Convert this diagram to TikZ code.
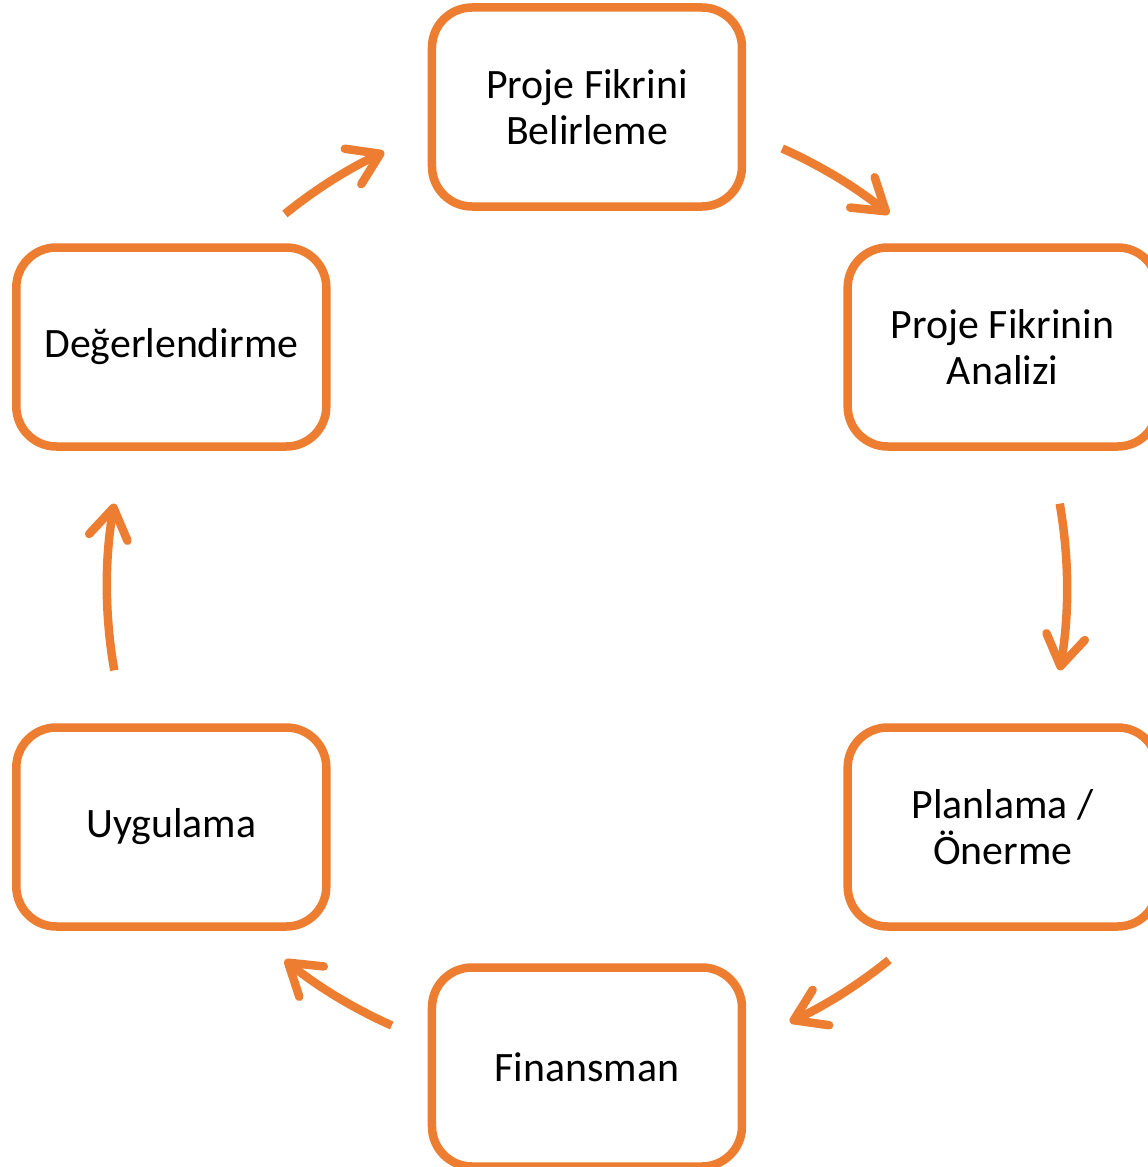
\documentclass[tikz,border=0pt]{standalone}
\usepackage{fontspec}
\setmainfont{Carlito}
\usetikzlibrary{arrows.meta}
\definecolor{accentorange}{HTML}{ED7D31}

\begin{document}
\begin{tikzpicture}[stepbox/.style={draw=accentorange, line width=0.17cm, rounded corners=0.8cm,
minimum width=6.2cm, minimum height=3.98cm, align=center, font=\fontsize{23.8}{25.8}\selectfont},
cyclearrow/.style={draw=accentorange, line width=0.17cm, -{Straight Barb[length=0.6cm, width=0.78cm, round]}}]
\useasboundingbox (-11.74,-11.6) rectangle (11.22,11.74);
\node [stepbox] (idea) at (90:9.6) {Proje Fikrini\\Belirleme};
\node [stepbox] (analysis) at (30:9.6) {Proje Fikrinin\\Analizi};
\node [stepbox] (planning) at (-30:9.6) {Planlama /\\Önerme};
\node [stepbox] (finance) at (-90:9.6) {Finansman};
\node [stepbox] (apply) at (-150:9.6) {Uygulama};
\node [stepbox] (evaluate) at (150:9.6) {Değerlendirme};
% arrows on the cycle circle
\foreach \i/\a/\b in {1/66/51, 2/10/-10, 3/-51/-65, 4/-114/-129, 5/-170/-190, 6/129/115} {
  \coordinate (s\i) at (\a:9.6);
  \draw [cyclearrow] (s\i) arc [start angle=\a, end angle=\b, radius=9.6];
}
\end{tikzpicture}
\end{document}
